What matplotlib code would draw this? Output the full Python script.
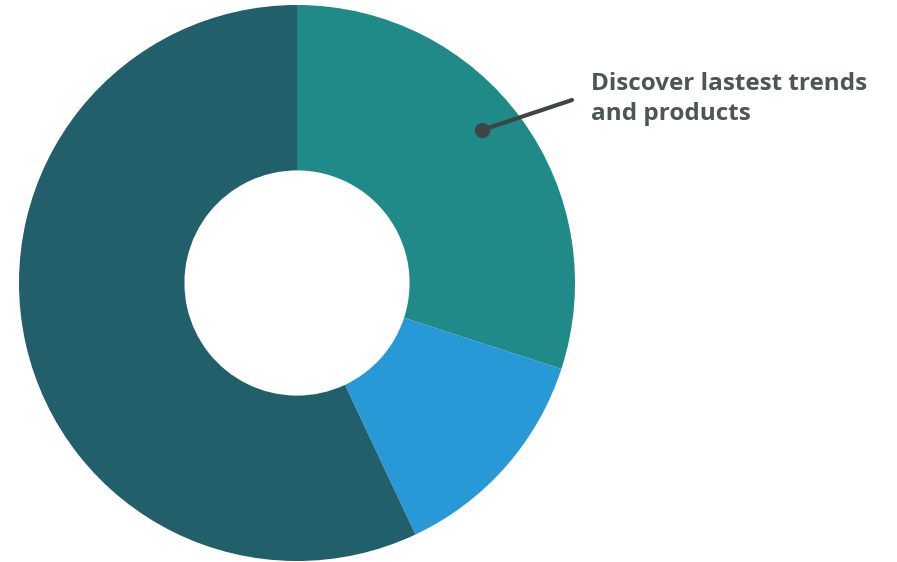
import matplotlib
matplotlib.use("Agg")
import matplotlib.pyplot as plt

labels = ["Discover lastest trends\nand products", "Other", "Rest"]
values = [30, 13, 57]
colors = ["#1f8a87", "#2699d6", "#215f6b"]

fig = plt.figure(figsize=(8.97, 5.62), dpi=100)
ax = fig.add_axes([0, 0, 1, 1])

cx, cy, R = 297, 283, 278
# y axis is inverted (pixel coords), so counterclock in data = clockwise on screen
wedges, _ = ax.pie(values, colors=colors, startangle=-90, counterclock=True,
                   center=(cx, cy), radius=R,
                   wedgeprops=dict(width=R * 0.595, linewidth=0))
ax.set_xlim(0, 897)
ax.set_ylim(562, 0)
ax.set_aspect("equal")
ax.axis("off")

ax.plot([482, 572], [130, 100], color="#3d4547", lw=3, solid_capstyle="round")
ax.plot([482], [130], "o", color="#3d4547", ms=10)
ax.text(591, 99, labels[0], fontsize=17.5, fontweight="bold", family="Open Sans",
        color="#4d5657", va="center", ha="left", linespacing=1.33)

fig.savefig("out.png", dpi=100)
